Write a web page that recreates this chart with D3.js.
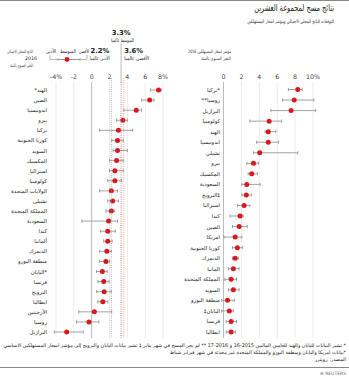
<!DOCTYPE html>
<html><head><meta charset="utf-8">
<script src="https://cdn.jsdelivr.net/npm/d3@7"></script>
<style>
html,body{margin:0;padding:0;background:#fff;}
svg{display:block;font-family:"DejaVu Sans","Noto Sans",sans-serif;}
</style></head>
<body>
<script>
// ---- Data ----
const gdpCountries = ["الهند*","الصين","اندونيسيا","بيرو","تركيا","كوريا الجنوبية","السويد","المكسيك","استراليا","كولومبيا","الولايات المتحدة","تشيلي","المملكة المتحدة","السعودية","كندا","ألمانيا","الدنمرك","منطقة اليورو","*اليابان","فرنسا","النرويج","ايطاليا","الأرجنتين","روسيا","البرازيل"];
const gdpAvg = [7.5,6.5,5.0,3.5,3.0,2.9,2.9,2.8,2.6,2.6,2.2,2.35,2.2,1.9,1.8,1.8,1.7,1.6,1.2,1.35,1.4,1.25,0.3,-0.3,-2.8];
const gdpMin = [6.6,5.6,3.6,2.8,0.9,2.25,2.4,2.0,2.0,1.8,0.9,1.8,1.6,-1.1,1.0,1.35,0.9,0.9,0.55,0.7,0.55,0.7,-1.45,-1.7,-4.2];
const gdpMax = [7.8,7.0,5.6,4.0,4.6,3.55,4.0,3.55,3.55,3.35,2.9,3.0,2.55,2.9,2.65,2.3,2.2,2.0,1.75,1.95,2.2,1.8,2.25,0.8,-0.95];

const cpiCountries = ["*تركيا","روسيا**","البرازيل","كولومبيا","الهند","اندونيسيا","تشيلي","بيرو","المكسيك","السعودية","‡النرويج","استراليا","كندا","الصين","امريكا","كوريا الجنوبية","الدنمرك","المانيا","المملكة المتحدة","السويد","منطقة اليورو","اليابان‡","فرنسا","ايطاليا"];
const cpiAvg = [8.3,7.9,7.55,5.1,5.0,5.0,4.05,3.35,3.15,2.6,2.55,2.3,1.85,1.75,1.3,1.55,1.3,1.1,0.85,1.1,0.45,0.65,0.85,0.85];
const cpiMin = [7.25,6.6,5.3,2.95,4.65,3.7,3.35,2.6,2.75,2.05,2.05,1.55,0.75,1.0,0.05,1.0,1.0,0.55,0.15,0.55,-0.2,-0.2,0.3,0.3];
const cpiMax = [8.8,10.1,10.3,6.5,5.85,6.15,8.3,3.9,3.8,4.1,3.15,2.95,2.2,2.65,2.05,2.15,1.65,1.75,1.45,1.75,1.2,1.1,1.45,1.35];

const gdpTicks = [-4,-2,0,2,4,6,8];
const gdpTickLabels = ["-4%","-2","0","2","4","6","8%"];
const cpiTicks = [0,2,4,6,8,10];
const cpiTickLabels = ["0","2","4","6","8","10%"];

const worldLow = 2.2, worldAvg = 3.3, worldHigh = 3.6;

// ---- Drawing ----
const W = 349, H = 378;
const svg = d3.select("body").append("svg").attr("width", W).attr("height", H);

// text placed in a group so that it can be narrowed horizontally to a maximum width
function txt(parent, x, y, s, size, opts={}) {
  const g = parent.append("g").attr("transform",`translate(${x},${y})`);
  const t = g.append("text").attr("x",0).attr("y",0).attr("font-size",size)
    .attr("fill",opts.fill||"#222").text(s);
  if (opts.anchor) t.attr("text-anchor",opts.anchor);
  else t.attr("direction","rtl").attr("text-anchor","start");
  if (opts.dir) t.attr("direction",opts.dir);
  if (opts.bold) t.attr("font-weight","bold");
  if (opts.w) {
    const len = t.node().getComputedTextLength();
    if (len > opts.w) g.attr("transform",`translate(${x},${y}) scale(${opts.w/len},1)`);
  }
  return t;
}

svg.append("line").attr("x1",0).attr("x2",W).attr("y1",0.5).attr("y2",0.5).attr("stroke","#888").attr("stroke-width",1.2);

// title
txt(svg, 334, 11, "نتائج مسح لمجموعة العشرين", 9.5, {w:80});
txt(svg, 334, 23, "التوقعات للناتج المحلي الاجمالي ومؤشر اسعار المستهلكين", 5, {w:87, fill:"#333"});

const x1 = d3.scaleLinear().domain([-4,8]).range([56,163]);
const x2 = d3.scaleLinear().domain([0,10]).range([223.5,313]);
const y1 = d3.scalePoint().domain(gdpCountries).range([90,332]);
const y2 = d3.scalePoint().domain(cpiCountries).range([89.5,332]);
const gTop = 82, gBot = 338;

function panel(x, ticks, tickLabels) {
  const g = svg.append("g");
  g.selectAll("line.grid").data(ticks).join("line")
    .attr("x1",d=>x(d)).attr("x2",d=>x(d)).attr("y1",gTop).attr("y2",gBot)
    .attr("stroke",d=> d===0 ? "#bbb" : "#e6e6e6").attr("stroke-width",d=> d===0?1:0.8);
  g.selectAll("text.tick").data(ticks).join("text")
    .attr("x",d=>x(d)).attr("y",79).attr("text-anchor","middle")
    .attr("font-size",6.3).attr("fill","#444").text((d,i)=>tickLabels[i]);
  return g;
}

function marks(g, x, y, cats, avg, mn, mx, labelX, lw) {
  cats.forEach(c => txt(g, labelX, y(c)+2, c, 5.4, {w:lw}));
  const row = g.selectAll("g.row").data(cats).join("g").attr("class","row");
  row.append("line").attr("x1",(d,i)=>x(mn[i])).attr("x2",(d,i)=>x(mx[i]))
    .attr("y1",d=>y(d)).attr("y2",d=>y(d)).attr("stroke","#999").attr("stroke-width",0.9);
  row.append("line").attr("x1",(d,i)=>x(mn[i])).attr("x2",(d,i)=>x(mn[i]))
    .attr("y1",d=>y(d)-1.6).attr("y2",d=>y(d)+1.6).attr("stroke","#888").attr("stroke-width",0.8);
  row.append("line").attr("x1",(d,i)=>x(mx[i])).attr("x2",(d,i)=>x(mx[i]))
    .attr("y1",d=>y(d)-1.6).attr("y2",d=>y(d)+1.6).attr("stroke","#888").attr("stroke-width",0.8);
  row.append("circle").attr("cx",(d,i)=>x(avg[i])).attr("cy",d=>y(d)).attr("r",2.5)
    .attr("fill","#d7191c");
}

const gL = panel(x1, gdpTicks, gdpTickLabels);
const gR = panel(x2, cpiTicks, cpiTickLabels);

// world reference lines
svg.append("line").attr("x1",x1(worldLow)).attr("x2",x1(worldLow)).attr("y1",gTop-4).attr("y2",gBot)
  .attr("stroke","#999").attr("stroke-width",0.8).attr("stroke-dasharray","1,1.2");
svg.append("line").attr("x1",x1(worldAvg)).attr("x2",x1(worldAvg)).attr("y1",43).attr("y2",gTop)
  .attr("stroke","#aaa").attr("stroke-width",0.8);
svg.append("line").attr("x1",x1(worldAvg)).attr("x2",x1(worldAvg)).attr("y1",gTop).attr("y2",gBot)
  .attr("stroke","#e05050").attr("stroke-width",0.8).attr("stroke-dasharray","1,1.2");
svg.append("line").attr("x1",x1(worldHigh)).attr("x2",x1(worldHigh)).attr("y1",gTop-4).attr("y2",gBot)
  .attr("stroke","#e88").attr("stroke-width",0.8).attr("stroke-dasharray","1,1.2");

marks(gL, x1, y1, gdpCountries, gdpAvg, gdpMin, gdpMax, 47, 44);
marks(gR, x2, y2, cpiCountries, cpiAvg, cpiMin, cpiMax, 220, 36);

// world labels
txt(svg, x1(worldAvg), 35, "3.3%", 6.8, {anchor:"middle", bold:true});
txt(svg, x1(worldAvg)+1.5, 41.5, "المتوسط عالميا", 5.2, {anchor:"middle", dir:"rtl", w:23});
txt(svg, x1(worldLow)-2, 53, "2.2%", 6.8, {anchor:"end", bold:true});
txt(svg, x1(worldLow)-1.5, 59.5, "الأدنى عالميا", 5.2, {w:20});
txt(svg, x1(worldHigh)+0.5, 53, "3.6%", 6.8, {anchor:"start", bold:true});
txt(svg, x1(worldHigh)+0.5, 59.5, "الأقصى عالميا", 5.2, {anchor:"end", dir:"rtl", w:25});

// left legend
txt(svg, 33, 53, "الناتج المحلي الاجمالي", 4.6, {w:26, fill:"#333"});
txt(svg, 31, 60, "2016", 4.8, {anchor:"middle", fill:"#333"});
txt(svg, 33, 67, "التغير السنوي بالمئة", 4.6, {w:23, fill:"#333"});
txt(svg, 89, 53, "الأقصى", 5.2, {w:10});
txt(svg, 76, 53, "المتوسط", 5.2, {w:16});
txt(svg, 56, 53, "الأدنى", 5.2, {w:10});
const lg = svg.append("g").attr("stroke","#999").attr("stroke-width",0.7).attr("fill","none");
lg.append("path").attr("d","M50,55V59.5H87V55");
lg.append("line").attr("x1",58).attr("x2",80).attr("y1",59.5).attr("y2",59.5).attr("stroke","#888");
lg.append("line").attr("x1",58).attr("x2",58).attr("y1",58).attr("y2",61);
lg.append("line").attr("x1",80).attr("x2",80).attr("y1",58).attr("y2",61);
svg.append("circle").attr("cx",67).attr("cy",59.5).attr("r",2.4).attr("fill","#d7191c");

// right legend
txt(svg, 231, 53, "مؤشر اسعار المستهلكين 2016", 4.6, {w:43, fill:"#333"});
txt(svg, 231, 60, "التغير السنوي بالمئة", 4.6, {w:30, fill:"#333"});

// footer
txt(svg, 346, 347, "* تشير البيانات لليابان والهند للعامين الماليين 2015-16 و 2016-17 ** لم يجر المسح في شهر يناير ‡ تشير بيانات اليابان والنرويج إلى مؤشر اسعار المستهلكين الاساسي", 5, {w:343});
txt(svg, 346, 354, "*بيانات امريكا واليابان ومنطقة اليورو والمملكة المتحدة غير محدثة في شهر فبراير شباط", 5, {w:177});
txt(svg, 346, 361, "المصدر: رويترز", 5, {w:34});
svg.append("line").attr("x1",0).attr("x2",W).attr("y1",367.5).attr("y2",367.5).attr("stroke","#888").attr("stroke-width",1.2);
txt(svg, 346, 375, "⊕ REUTERS", 4.5, {anchor:"end", fill:"#666"});
</script>
</body></html>
